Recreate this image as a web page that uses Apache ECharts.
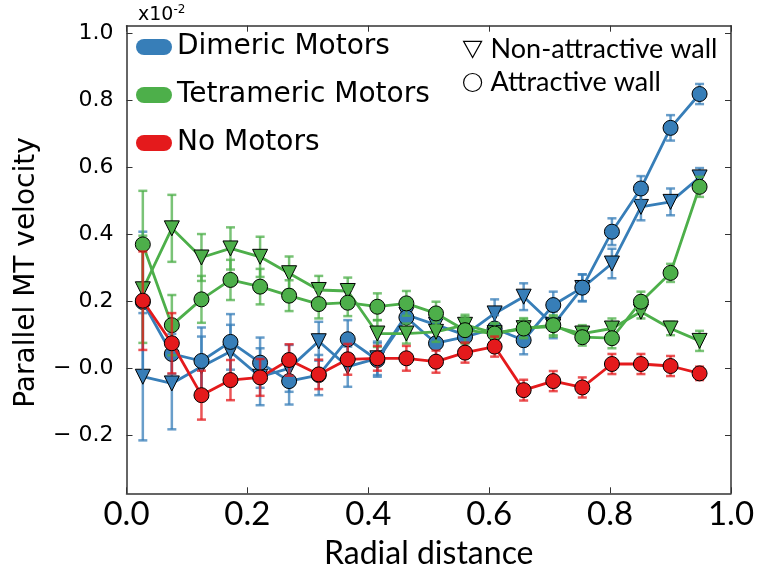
<!DOCTYPE html>
<html><head><meta charset="utf-8">
<script src="https://cdn.jsdelivr.net/npm/echarts@6/dist/echarts.min.js"></script>
<style>html,body{margin:0;padding:0;background:#fff}#c{width:758px;height:572px}</style>
</head><body><div id="c"></div>
<script>
const radial = [0.027,0.075,0.124,0.172,0.221,0.269,0.318,0.366,0.415,0.463,0.512,0.560,0.609,0.657,0.706,0.754,0.803,0.851,0.900,0.948];
const dimericAttr = [0.198,0.043,0.022,0.079,0.017,-0.038,-0.020,0.087,0.025,0.152,0.075,0.094,0.119,0.084,0.189,0.241,0.408,0.537,0.718,0.819];
const dimericAttrErr = [0.21,0.06,0.10,0.083,0.075,0.07,0.06,0.057,0.05,0.04,0.04,0.04,0.04,0.042,0.04,0.04,0.04,0.037,0.038,0.03];
const dimericNon = [-0.025,-0.045,0.005,0.050,-0.025,0.000,0.081,0.005,0.030,0.160,0.130,0.100,0.164,0.214,0.130,0.240,0.313,0.482,0.497,0.570];
const dimericNonErr = [0.19,0.137,0.09,0.08,0.085,0.07,0.058,0.06,0.05,0.05,0.04,0.04,0.042,0.04,0.04,0.04,0.044,0.04,0.04,0.028];
const tetraAttr = [0.370,0.129,0.206,0.264,0.244,0.217,0.192,0.196,0.184,0.194,0.164,0.114,0.104,0.119,0.129,0.093,0.090,0.199,0.285,0.542];
const tetraAttrErr = [0.16,0.09,0.07,0.06,0.053,0.046,0.043,0.04,0.04,0.037,0.035,0.04,0.03,0.027,0.03,0.025,0.03,0.03,0.027,0.03];
const tetraNon = [0.236,0.418,0.331,0.358,0.333,0.284,0.234,0.231,0.104,0.104,0.109,0.130,0.105,0.120,0.125,0.104,0.119,0.169,0.119,0.082];
const tetraNonErr = [0.16,0.10,0.07,0.063,0.06,0.05,0.042,0.04,0.04,0.03,0.03,0.03,0.03,0.03,0.03,0.025,0.03,0.02,0.02,0.03];
const noMotors = [0.202,0.075,-0.080,-0.035,-0.027,0.025,-0.018,0.027,0.030,0.030,0.020,0.047,0.065,-0.065,-0.038,-0.057,0.013,0.013,0.007,-0.015];
const noMotorsErr = [0.147,0.09,0.073,0.06,0.055,0.047,0.044,0.046,0.037,0.037,0.033,0.03,0.03,0.031,0.03,0.03,0.03,0.03,0.03,0.02];
const yTicks = [-0.2,0.0,0.2,0.4,0.6,0.8,1.0];

const BLUE='#377eb8', GREEN='#4daf4a', RED='#e41a1c';
const chart = echarts.init(document.getElementById('c'));

function errSeries(name, ys, es, color, z){
  return {
    type:'custom', name:name, silent:true, z:z,
    itemStyle:{color:color},
    encode:{x:0,y:[1,2]},
    data: radial.map((x,i)=>[x, ys[i]-es[i], ys[i]+es[i]]),
    renderItem:(params, api)=>{
      const x=api.value(0), lo=api.coord([x,api.value(1)]), hi=api.coord([x,api.value(2)]);
      const w=4.5, st={stroke:color, lineWidth:2.5, opacity:0.75};
      return {type:'group', children:[
        {type:'line', shape:{x1:lo[0],y1:lo[1],x2:hi[0],y2:hi[1]}, style:st},
        {type:'line', shape:{x1:lo[0]-w,y1:lo[1],x2:lo[0]+w,y2:lo[1]}, style:st},
        {type:'line', shape:{x1:hi[0]-w,y1:hi[1],x2:hi[0]+w,y2:hi[1]}, style:st}
      ]};
    }
  };
}
function lineSeries(name, ys, color, tri, z){
  return {
    type:'line', name:name, z:z,
    data: radial.map((x,i)=>[x, ys[i]]),
    symbol: tri ? 'triangle' : 'circle',
    symbolRotate: tri ? 180 : 0,
    symbolSize: tri ? [15,15] : 15,
    showAllSymbol:true,
    lineStyle:{color:color, width:2.8},
    itemStyle:{color:color, borderColor:'#000', borderWidth:1},
    emphasis:{disabled:true}
  };
}
const pill = 'path://M8,0 L28,0 A8,8 0 0 1 28,16 L8,16 A8,8 0 0 1 8,0 Z';
const fmt = v => {
  if (Math.abs(v) < 1e-9) return '\u2212 0.0';
  return v < 0 ? '\u2212 ' + Math.abs(v).toFixed(1) : v.toFixed(1);
};

chart.setOption({
  animation:false,
  backgroundColor:'#fff',
  title:{
    text:'x10{s|-2}', left:133, top:-1,
    textStyle:{fontFamily:'DejaVu Sans', fontSize:19, fontWeight:'normal', color:'#000',
      rich:{s:{fontFamily:'DejaVu Sans', fontSize:12, color:'#000', padding:[0,0,10,0]}}}
  },
  grid:{left:126.5, right:27, top:25.7, bottom:78.7, containLabel:false, outerBoundsMode:'none'},
  legend:[
    {orient:'vertical', left:131, top:28, itemWidth:36, itemHeight:16, itemGap:20,
     textStyle:{fontFamily:'DejaVu Sans', fontSize:28, color:'#000'},
     selectedMode:false,
     data:[
       {name:'Dimeric Motors',icon:pill,itemStyle:{color:BLUE,borderWidth:0}},
       {name:'Tetrameric Motors',icon:pill,itemStyle:{color:GREEN,borderWidth:0}},
       {name:'No Motors',icon:pill,itemStyle:{color:RED,borderWidth:0}}]},
    {orient:'vertical', left:458, top:31, itemWidth:18, itemHeight:18, itemGap:6,
     textStyle:{fontFamily:'Lato', fontSize:27, color:'#000', padding:[0,0,0,4]}, selectedMode:false,
     data:[
       {name:'Non-attractive wall', icon:'path://M0,0 L20,0 L10,18 Z', itemStyle:{color:'#fff', borderColor:'#000', borderWidth:1.2}},
       {name:'Attractive wall', icon:'circle', itemStyle:{color:'#fff', borderColor:'#000', borderWidth:1.2}}
     ]}
  ],
  xAxis:[
    {type:'value', min:0, max:1, interval:0.2, position:'bottom',
     name:'Radial distance', nameLocation:'middle', nameGap:44,
     nameTextStyle:{fontFamily:'Lato', fontSize:32, color:'#000'},
     axisLine:{onZero:false, lineStyle:{color:'#333', width:1.5}},
     axisTick:{inside:true, length:6, lineStyle:{color:'#333'}},
     axisLabel:{fontFamily:'Lato', fontSize:33, color:'#000', margin:5, formatter:v=>v.toFixed(1)},
     splitLine:{show:false}},
    {type:'value', min:0, max:1, interval:0.2, position:'top',
     axisLine:{onZero:false, lineStyle:{color:'#333', width:1.5}},
     axisTick:{inside:true, length:6, lineStyle:{color:'#333'}},
     axisLabel:{show:false}, splitLine:{show:false}}
  ],
  yAxis:[
    {type:'value', min:-0.373, max:1.023, position:'left',
     name:'Parallel MT velocity', nameLocation:'middle', nameGap:86, nameRotate:90,
     nameTextStyle:{fontFamily:'DejaVu Sans', fontSize:28, color:'#000', padding:[0,26,0,0]},
     axisLine:{onZero:false, lineStyle:{color:'#333', width:1.5}},
     axisTick:{inside:true, length:6, customValues:yTicks, lineStyle:{color:'#333'}},
     axisLabel:{fontFamily:'DejaVu Sans', fontSize:22, color:'#000', margin:13, customValues:yTicks, formatter:fmt},
     splitLine:{show:false}},
    {type:'value', min:-0.373, max:1.023, position:'right',
     axisLine:{onZero:false, lineStyle:{color:'#333', width:1.5}},
     axisTick:{inside:true, length:6, customValues:yTicks, lineStyle:{color:'#333'}},
     axisLabel:{show:false}, splitLine:{show:false}}
  ],
  series:[
    {type:'line', name:'Non-attractive wall', data:[]},
    {type:'line', name:'Attractive wall', data:[]},
    errSeries('Dimeric Motors', dimericNon, dimericNonErr, BLUE, 2),
    lineSeries('Dimeric Motors', dimericNon, BLUE, true, 2),
    errSeries('Dimeric Motors', dimericAttr, dimericAttrErr, BLUE, 3),
    lineSeries('Dimeric Motors', dimericAttr, BLUE, false, 3),
    errSeries('Tetrameric Motors', tetraNon, tetraNonErr, GREEN, 4),
    lineSeries('Tetrameric Motors', tetraNon, GREEN, true, 4),
    errSeries('Tetrameric Motors', tetraAttr, tetraAttrErr, GREEN, 5),
    lineSeries('Tetrameric Motors', tetraAttr, GREEN, false, 5),
    errSeries('No Motors', noMotors, noMotorsErr, RED, 6),
    lineSeries('No Motors', noMotors, RED, false, 6)
  ]
});
</script>
</body></html>
